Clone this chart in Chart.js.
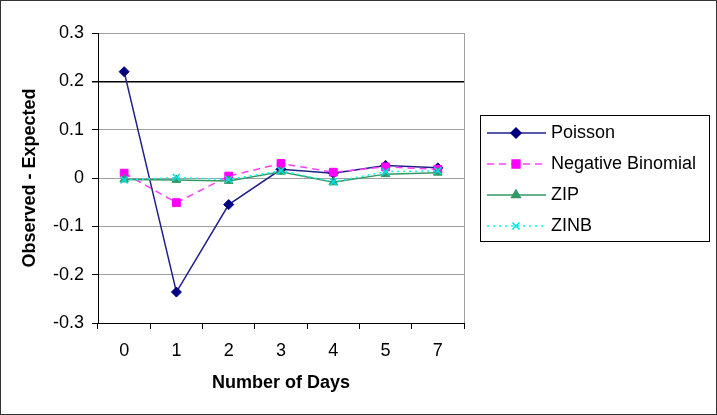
<!DOCTYPE html>
<html>
<head>
<meta charset="utf-8">
<title>Observed - Expected by Number of Days</title>
<script src="https://cdn.jsdelivr.net/npm/chart.js@4.4.0/dist/chart.umd.min.js"></script>
<style>
  html, body { margin: 0; padding: 0; background: #fff; }
  #chart { display: block; }
</style>
</head>
<body>
<canvas id="chart" width="717" height="415"></canvas>
<script>
// categories and series
const days = ['0', '1', '2', '3', '4', '5', '7'];
const poisson = [0.22, -0.236, -0.055, 0.018, 0.01, 0.026, 0.021];
const negBinomial = [0.01, -0.051, 0.004, 0.03, 0.012, 0.023, 0.018];
const zip = [-0.003, -0.004, -0.006, 0.013, -0.009, 0.008, 0.011];
const zinb = [-0.004, 0.001, -0.003, 0.015, -0.008, 0.013, 0.015];

const yMin = -0.3;
const yMax = 0.3;
const yStep = 0.1;
const darkGridValue = 0.2;

const FONT = "'Liberation Sans', Arial, sans-serif";

// legend box on the right + frame + right edge of plot
const extras = {
    id: 'extras',
    beforeDraw(chart) {
        const ctx = chart.ctx;
        ctx.save();
        ctx.fillStyle = '#fff';
        ctx.fillRect(0, 0, chart.width, chart.height);
        ctx.restore();
    },
    afterDraw(chart) {
        const ctx = chart.ctx;
        const area = chart.chartArea;
        ctx.save();

        // right border of the plot
        ctx.strokeStyle = '#a0a0a0';
        ctx.lineWidth = 1;
        ctx.beginPath();
        ctx.moveTo(Math.round(area.right) + 0.5, area.top);
        ctx.lineTo(Math.round(area.right) + 0.5, area.bottom);
        ctx.stroke();

        // legend
        ctx.strokeStyle = '#000';
        ctx.strokeRect(480.5, 115.5, 229, 126);
        chart.data.datasets.forEach((ds, i) => {
            const y = 133 + i * 31;
            ctx.strokeStyle = ds.borderColor;
            ctx.lineWidth = ds.borderWidth;
            ctx.setLineDash(ds.borderDash || []);
            ctx.beginPath();
            ctx.moveTo(487, y);
            ctx.lineTo(546, y);
            ctx.stroke();
            ctx.setLineDash([]);
            ctx.fillStyle = ds.pointBackgroundColor;
            ctx.strokeStyle = ds.pointBorderColor;
            Chart.helpers.drawPoint(ctx, {
                pointStyle: ds.pointStyle,
                radius: ds.pointRadius,
                rotation: 0,
                borderWidth: ds.pointBorderWidth
            }, 516, y);
            ctx.fillStyle = '#000';
            ctx.font = '18px ' + FONT;
            ctx.textBaseline = 'middle';
            ctx.textAlign = 'left';
            ctx.fillText(ds.label, 551, y);
        });

        // outer frame
        ctx.strokeStyle = '#333';
        ctx.lineWidth = 1;
        ctx.strokeRect(0.5, 0.5, chart.width - 1, chart.height - 1);
        ctx.restore();
    }
};

const ctx = document.getElementById('chart');

new Chart(ctx, {
    type: 'line',
    data: {
        labels: days,
        datasets: [
            {
                label: 'Poisson',
                data: poisson,
                borderColor: '#1f1f8a',
                borderWidth: 1.5,
                pointStyle: 'rectRot',
                pointRadius: 5,
                pointBackgroundColor: '#000080',
                pointBorderColor: '#000080',
                pointBorderWidth: 1,
                order: 4
            },
            {
                label: 'Negative Binomial',
                data: negBinomial,
                borderColor: '#ff40ff',
                borderWidth: 1.5,
                borderDash: [7, 5],
                pointStyle: 'rect',
                pointRadius: 5.5,
                pointBackgroundColor: '#ff00ff',
                pointBorderColor: '#ff00ff',
                pointBorderWidth: 1,
                order: 3
            },
            {
                label: 'ZIP',
                data: zip,
                borderColor: '#339966',
                borderWidth: 1.5,
                pointStyle: 'triangle',
                pointRadius: 5,
                pointBackgroundColor: '#339966',
                pointBorderColor: '#339966',
                pointBorderWidth: 1,
                order: 2
            },
            {
                label: 'ZINB',
                data: zinb,
                borderColor: '#00ffff',
                borderWidth: 1.5,
                borderDash: [2, 4],
                pointStyle: 'crossRot',
                pointRadius: 5,
                pointBackgroundColor: '#00e0e0',
                pointBorderColor: '#00e0e0',
                pointBorderWidth: 1.5,
                order: 1
            }
        ]
    },
    options: {
        responsive: false,
        animation: false,
        layout: {
            padding: { left: 0, top: 33, right: 253, bottom: 0 }
        },
        plugins: {
            legend: { display: false },
            tooltip: { enabled: false }
        },
        scales: {
            x: {
                type: 'category',
                offset: true,
                afterFit(scale) { scale.height = 92; },
                grid: {
                    display: true,
                    offset: true,
                    drawOnChartArea: false,
                    tickLength: 6,
                    tickColor: '#000'
                },
                border: { color: '#000', width: 1 },
                ticks: {
                    color: '#000',
                    padding: 11,
                    font: { family: FONT, size: 18 }
                },
                title: {
                    display: true,
                    text: 'Number of Days',
                    color: '#000',
                    padding: { top: 0, bottom: 21 },
                    font: { family: FONT, size: 18, weight: 'bold' }
                }
            },
            y: {
                min: yMin,
                max: yMax,
                afterFit(scale) { scale.width = 98; },
                afterBuildTicks(scale) {
                    const ticks = [];
                    for (let v = yMin; v <= yMax + 1e-9; v += yStep) {
                        ticks.push({ value: Math.round(v * 10) / 10 });
                    }
                    scale.ticks = ticks;
                },
                grid: {
                    color: (c) => (c.tick && Math.abs(c.tick.value - darkGridValue) < 1e-9) ? '#000' : '#a0a0a0',
                    lineWidth: (c) => (c.tick && Math.abs(c.tick.value - darkGridValue) < 1e-9) ? 1.5 : 1,
                    tickLength: 6,
                    tickColor: '#000'
                },
                border: { color: '#000', width: 1 },
                ticks: {
                    color: '#000',
                    padding: 8,
                    font: { family: FONT, size: 18 },
                    callback: (v) => {
                        const r = Math.round(v * 10) / 10;
                        return r === 0 ? '0' : r.toFixed(1);
                    }
                },
                title: {
                    display: true,
                    text: 'Observed - Expected',
                    color: '#000',
                    padding: { top: 19, bottom: 0 },
                    font: { family: FONT, size: 18, weight: 'bold' }
                }
            }
        }
    },
    plugins: [extras]
});
</script>
</body>
</html>
